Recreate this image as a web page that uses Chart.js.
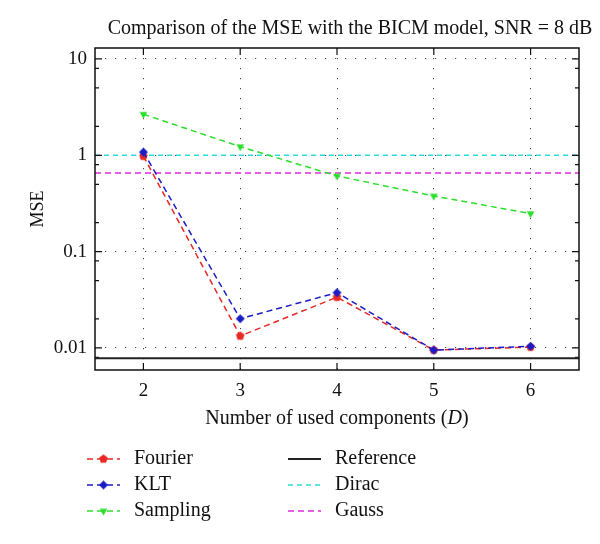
<!DOCTYPE html>
<html>
<head>
<meta charset="utf-8">
<script src="https://cdn.jsdelivr.net/npm/chart.js@4.4.0/dist/chart.umd.min.js"></script>
<style>
  html, body { margin: 0; padding: 0; background: #fff; }
</style>
</head>
<body>
<canvas id="mse" width="600" height="544"></canvas>
<script>
// values
const components = [2, 3, 4, 5, 6];
const fourier = [0.98, 0.0133, 0.0336, 0.0095, 0.0102];
const klt = [1.08, 0.0201, 0.0375, 0.0095, 0.0104];
const sampling = [2.67, 1.23, 0.61, 0.378, 0.248];
const referenceMse = 0.0078;
const diracMse = 1.0;
const gaussMse = 0.655;
const xRange = [1.5, 6.5];
const yRange = [0.0059, 13];
const yMajorTicks = [0.01, 0.1, 1, 10];
const yMinorTicks = [0.008, 0.02, 0.05, 0.08, 0.2, 0.5, 0.8, 2, 5, 8];
const chartTitle = 'Comparison of the MSE with the BICM model, SNR = 8 dB';

const FONT = "'Liberation Serif', 'DejaVu Serif', serif";

// small marker images (Chart.js has no pentagon / down triangle)
function marker(color, sides, rot, r) {
  const size = Math.ceil(r * 2 + 2);
  const c = document.createElement('canvas');
  c.width = c.height = size;
  const ctx = c.getContext('2d');
  ctx.fillStyle = color;
  ctx.beginPath();
  for (let i = 0; i < sides; i++) {
    const a = rot + i * 2 * Math.PI / sides;
    ctx.lineTo(size / 2 + r * Math.cos(a), size / 2 + r * Math.sin(a));
  }
  ctx.closePath();
  ctx.fill();
  return c;
}

const RED = 'rgb(232, 40, 36)';
const BLUE = 'rgb(28, 28, 196)';
const GREEN = 'rgb(44, 222, 44)';
const CYAN = 'rgb(48, 218, 218)';
const MAGENTA = 'rgb(222, 44, 222)';

const pentagon = marker(RED, 5, -Math.PI / 2, 4.5);
const diamond = marker(BLUE, 4, -Math.PI / 2, 4.5);
const downTri = marker(GREEN, 3, Math.PI / 2, 4.5);

const pts = vals => vals.map((v, i) => ({x: components[i], y: v}));
const flat = v => xRange.map(x => ({x, y: v}));

const datasets = [
  {label: 'Fourier', data: pts(fourier), borderColor: RED, borderDash: [6, 4], pointStyle: pentagon, slot: [0, 0], order: 1},
  {label: 'KLT', data: pts(klt), borderColor: BLUE, borderDash: [6, 4], pointStyle: diamond, slot: [0, 1], order: 0},
  {label: 'Sampling', data: pts(sampling), borderColor: GREEN, borderDash: [6, 4], pointStyle: downTri, slot: [0, 2], order: 1},
  {label: 'Reference', data: flat(referenceMse), borderColor: '#222', borderWidth: 2, pointStyle: false, slot: [1, 0], order: 2},
  {label: 'Dirac', data: flat(diracMse), borderColor: CYAN, borderDash: [5, 4], pointStyle: false, slot: [1, 1], order: 2},
  {label: 'Gauss', data: flat(gaussMse), borderColor: MAGENTA, borderDash: [6, 4], pointStyle: false, slot: [1, 2], order: 2}
].map(d => Object.assign({borderWidth: 1.5, pointRadius: 4, fill: false, tension: 0}, d));

// title, frame with inward ticks, x title with italic D, two column legend
const decorations = {
  id: 'decorations',
  afterDraw(chart) {
    const {ctx, chartArea: a, scales: {x, y}} = chart;
    ctx.save();
    ctx.strokeStyle = '#111';
    ctx.lineWidth = 1.5;
    ctx.strokeRect(a.left, a.top, a.right - a.left, a.bottom - a.top);
    ctx.lineWidth = 1.2;
    ctx.beginPath();
    components.forEach(v => {
      const px = x.getPixelForValue(v);
      ctx.moveTo(px, a.bottom); ctx.lineTo(px, a.bottom - 7);
      ctx.moveTo(px, a.top); ctx.lineTo(px, a.top + 7);
    });
    yMajorTicks.forEach(v => {
      const py = y.getPixelForValue(v);
      ctx.moveTo(a.left, py); ctx.lineTo(a.left + 7, py);
      ctx.moveTo(a.right, py); ctx.lineTo(a.right - 7, py);
    });
    yMinorTicks.forEach(v => {
      const py = y.getPixelForValue(v);
      ctx.moveTo(a.left, py); ctx.lineTo(a.left + 4, py);
      ctx.moveTo(a.right, py); ctx.lineTo(a.right - 4, py);
    });
    ctx.stroke();

    ctx.fillStyle = '#111';
    ctx.textBaseline = 'middle';

    // chart title, a little right of the plot centre as in the original
    ctx.font = '20px ' + FONT;
    ctx.textAlign = 'center';
    ctx.fillText(chartTitle, (a.left + a.right) / 2 + 13, a.top - 19);
    ctx.textAlign = 'left';

    // x axis title
    const parts = [['Number of used components (', '20px ' + FONT], ['D', 'italic 20px ' + FONT], [')', '20px ' + FONT]];
    let total = 0;
    parts.forEach(p => { ctx.font = p[1]; total += ctx.measureText(p[0]).width; });
    let tx = (a.left + a.right) / 2 - total / 2;
    const ty = a.bottom + 49;
    parts.forEach(p => { ctx.font = p[1]; ctx.fillText(p[0], tx, ty); tx += ctx.measureText(p[0]).width; });

    // legend
    const colX = [87, 288], rowY = [459, 485, 511];
    ctx.font = '20px ' + FONT;
    chart.data.datasets.forEach(ds => {
      const lx = colX[ds.slot[0]], ly = rowY[ds.slot[1]];
      ctx.strokeStyle = ds.borderColor;
      ctx.lineWidth = ds.borderWidth;
      ctx.setLineDash(ds.borderDash || []);
      ctx.beginPath();
      ctx.moveTo(lx, ly); ctx.lineTo(lx + 33, ly);
      ctx.stroke();
      ctx.setLineDash([]);
      if (ds.pointStyle) {
        const img = ds.pointStyle;
        ctx.drawImage(img, lx + 16.5 - img.width / 2, ly - img.height / 2);
      }
      ctx.fillStyle = '#111';
      ctx.fillText(ds.label, lx + 47, ly);
    });
    ctx.restore();
  }
};

new Chart(document.getElementById('mse'), {
  type: 'line',
  data: {datasets},
  options: {
    responsive: false,
    animation: false,
    devicePixelRatio: 1,
    layout: {padding: {right: 21, top: 48}},
    plugins: {
      legend: {display: false},
      tooltip: {enabled: false},
      title: {display: false}
    },
    scales: {
      x: {
        type: 'linear',
        min: xRange[0],
        max: xRange[1],
        afterBuildTicks: s => { s.ticks = components.map(v => ({value: v})); },
        afterFit: s => { s.height = 174; },
        grid: {color: '#444', lineWidth: 1, drawTicks: false},
        border: {display: false, dash: [1.2, 8.8]},
        ticks: {color: '#111', padding: 10, font: {family: FONT, size: 19}}
      },
      y: {
        type: 'logarithmic',
        min: yRange[0],
        max: yRange[1],
        afterBuildTicks: s => { s.ticks = yMajorTicks.map(v => ({value: v})); },
        afterFit: s => { s.width = 95; },
        grid: {color: '#444', lineWidth: 1, drawTicks: false},
        border: {display: false, dash: [1.2, 8.8]},
        ticks: {color: '#111', padding: 8, font: {family: FONT, size: 19}, callback: v => String(v)},
        title: {display: true, text: 'MSE', color: '#111', font: {family: FONT, size: 18}, padding: {top: 27, bottom: 0}}
      }
    }
  },
  plugins: [decorations]
});
</script>
</body>
</html>
